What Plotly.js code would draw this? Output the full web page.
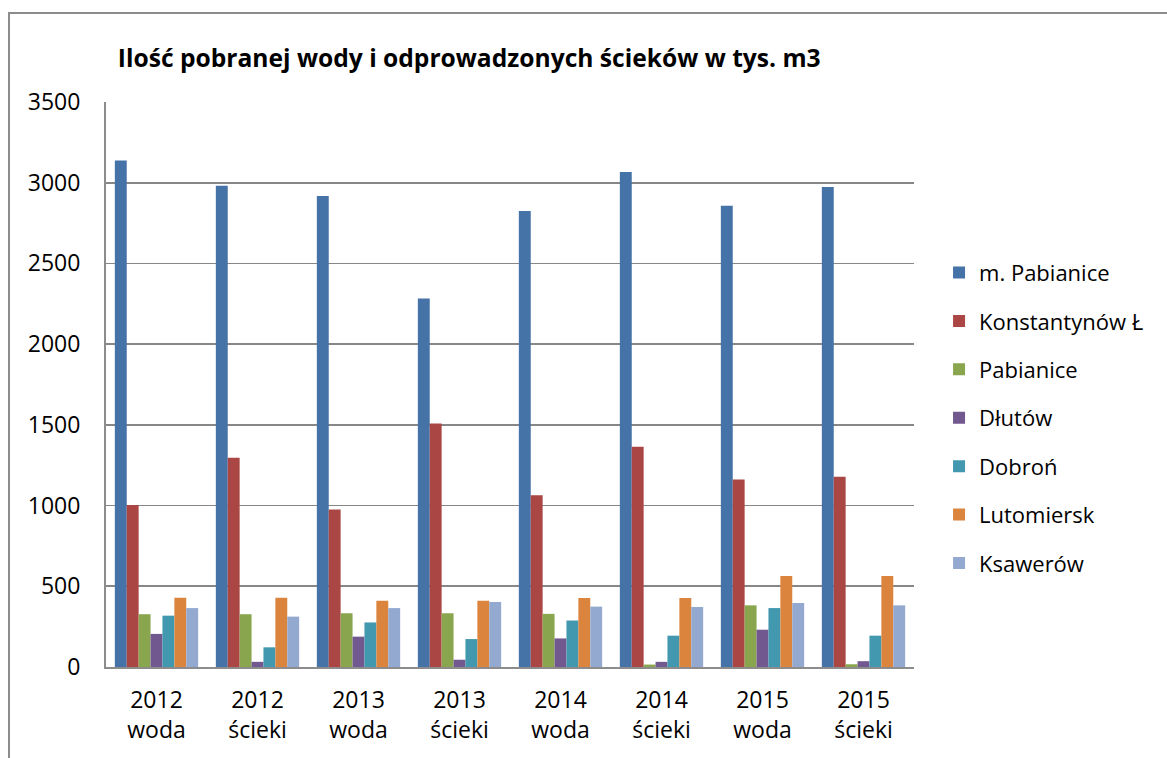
<!DOCTYPE html>
<html>
<head>
<meta charset="utf-8">
<script src="https://cdn.plot.ly/plotly-3.0.1.min.js"></script>
<style>
  html, body { margin: 0; padding: 0; background: #fff; overflow: hidden; }
  #chart { width: 1167px; height: 758px; }
  #frame { position: absolute; left: 8px; top: 12px; width: 1300px; height: 900px;
           border-left: 2px solid #8c8c8c; border-top: 2px solid #8c8c8c; pointer-events: none; }
</style>
</head>
<body>
<div id="chart"></div>
<div id="frame"></div>
<script>
const categories = ["2012<br>woda", "2012<br>ścieki", "2013<br>woda", "2013<br>ścieki",
                    "2014<br>woda", "2014<br>ścieki", "2015<br>woda", "2015<br>ścieki"];
const seriesNames = ["m. Pabianice", "Konstantynów Ł", "Pabianice", "Dłutów", "Dobroń", "Lutomiersk", "Ksawerów"];
const mPabianice    = [3137, 2981, 2917, 2282, 2825, 3066, 2857, 2974];
const konstantynow  = [1004, 1297, 976, 1509, 1064, 1365, 1162, 1179];
const pabianice     = [327, 327, 333, 333, 329, 15, 382, 17];
const dlutow        = [205, 32, 188, 45, 177, 32, 231, 36];
const dobron        = [318, 122, 276, 173, 288, 194, 365, 194];
const lutomiersk    = [429, 429, 410, 410, 427, 427, 564, 564];
const ksawerow      = [365, 312, 365, 402, 374, 372, 397, 382];
const seriesValues = [mPabianice, konstantynow, pabianice, dlutow, dobron, lutomiersk, ksawerow];
const colors = ["#4572A7", "#AA4643", "#89A54E", "#71588F", "#4198AF", "#DB843D", "#93A9CF"];

const FONT = "Open Sans, Liberation Sans, sans-serif";

const data = seriesNames.map((name, i) => ({
  type: "bar",
  name: name,
  x: categories,
  y: seriesValues[i],
  legendgroup: "g" + i,
  marker: { color: colors[i], line: { width: 0 } },
  hoverinfo: "skip"
}));

const layout = {
  width: 1167,
  height: 758,
  paper_bgcolor: "#ffffff",
  plot_bgcolor: "#ffffff",
  margin: { l: 106, r: 253, t: 102, b: 91, pad: 0 },
  barmode: "group",
  bargap: 0.175,
  bargroupgap: 0,
  font: { family: FONT, color: "#000000", size: 22 },
  title: {
    text: "<b>Ilość pobranej wody i odprowadzonych ścieków w tys. m3</b>",
    font: { family: FONT, size: 24.6, color: "#000000" },
    xref: "container", yref: "container",
    x: 0.101, xanchor: "left",
    y: 0.923, yanchor: "middle"
  },
  xaxis: {
    type: "category",
    showgrid: false,
    showline: true,
    linecolor: "#8c8c8c",
    linewidth: 2,
    ticks: "",
    ticklabelstandoff: 11,
    tickfont: { family: FONT, size: 23, color: "#000000" },
    fixedrange: true
  },
  yaxis: {
    range: [0, 3500],
    tickvals: [0, 500, 1000, 1500, 2000, 2500, 3000, 3500],
    ticktext: ["0", "500", "1000", "1500", "2000", "2500", "3000", "3500"],
    showgrid: true,
    gridcolor: "#878787",
    gridwidth: 1.8,
    showline: true,
    linecolor: "#8c8c8c",
    linewidth: 2,
    zeroline: false,
    ticks: "",
    ticklabelstandoff: 19,
    tickfont: { family: FONT, size: 23, color: "#000000" },
    fixedrange: true
  },
  showlegend: true,
  legend: {
    x: 1.031, xanchor: "left",
    y: 0.735, yanchor: "top",
    traceorder: "grouped",
    tracegroupgap: 16.8,
    font: { family: FONT, size: 22, color: "#000000" },
    bgcolor: "rgba(0,0,0,0)",
    borderwidth: 0
  }
};

Plotly.newPlot("chart", data, layout, { displayModeBar: false, staticPlot: true });
</script>
</body>
</html>
